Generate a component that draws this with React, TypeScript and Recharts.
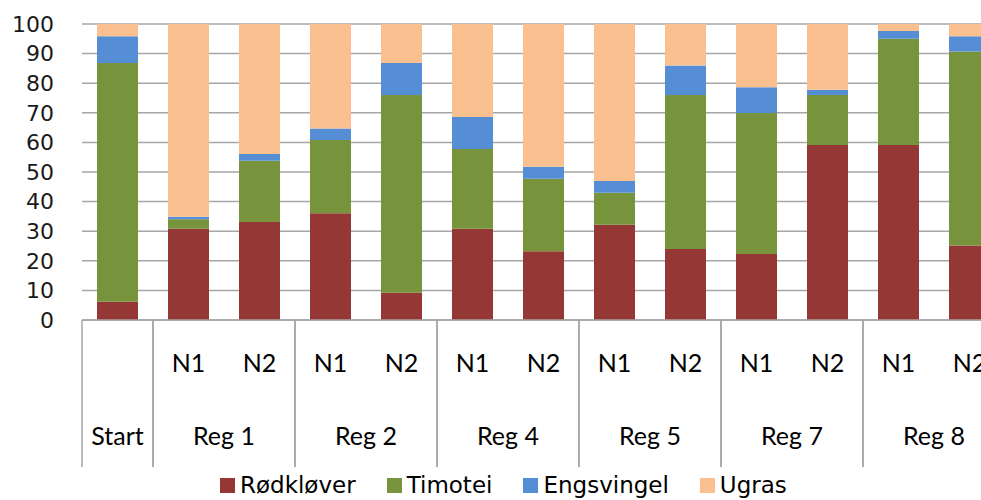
import { BarChart, Bar, XAxis, YAxis, CartesianGrid, Legend } from 'recharts';

// Botanical composition (%) per plot, stacked to 100
const subLabels = ['', 'N1', 'N2', 'N1', 'N2', 'N1', 'N2', 'N1', 'N2', 'N1', 'N2', 'N1', 'N2'];
const groupLabels = ['Start', 'Reg 1', 'Reg 1', 'Reg 2', 'Reg 2', 'Reg 4', 'Reg 4', 'Reg 5', 'Reg 5', 'Reg 7', 'Reg 7', 'Reg 8', 'Reg 8'];

const rodklover = [6.2, 30.8, 33.1, 36.1, 9.2, 30.8, 23.2, 32.2, 24.0, 22.3, 59.1, 59.1, 25.2];
const timotei = [80.6, 3.2, 20.7, 24.7, 66.8, 27.0, 24.5, 10.8, 52.0, 47.6, 16.9, 35.9, 65.5];
const engsvingel = [9.1, 0.9, 2.3, 3.9, 10.8, 10.8, 4.1, 4.0, 10.0, 8.7, 1.8, 2.6, 5.2];
const ugras = [4.1, 65.1, 43.9, 35.3, 13.2, 31.4, 48.2, 53.0, 14.0, 21.4, 22.2, 2.4, 4.1];

const yTicks = [0, 10, 20, 30, 40, 50, 60, 70, 80, 90, 100];

const series = [
  { key: 'rodklover', name: 'Rødkløver', color: '#953735' },
  { key: 'timotei', name: 'Timotei', color: '#77933C' },
  { key: 'engsvingel', name: 'Engsvingel', color: '#558ED5' },
  { key: 'ugras', name: 'Ugras', color: '#FAC090' },
];

const data = subLabels.map((sub, i) => ({
  id: i,
  sub,
  group: groupLabels[i],
  rodklover: rodklover[i],
  timotei: timotei[i],
  engsvingel: engsvingel[i],
  ugras: ugras[i],
}));

const labelFont = "Lato, 'Open Sans', sans-serif";
const axisGrey = '#a6a6a6';

// Two-level category tick: sub label, group label and group separators
function MultiLevelTick(props: any) {
  const { x, y, payload } = props;
  const i = payload.index;
  const half = payload.offset;
  const row = data[i];
  const isGroupStart = i === 0 || data[i - 1].group !== row.group;
  const isGroupEnd = i === data.length - 1 || data[i + 1].group !== row.group;
  const groupCenter = isGroupStart && isGroupEnd ? x : isGroupStart ? x + half : null;
  return (
    <g>
      {isGroupStart && (
        <line x1={x - half} x2={x - half} y1={y} y2={y + 147} stroke={axisGrey} strokeWidth={1.5} />
      )}
      {isGroupEnd && (
        <line x1={x + half} x2={x + half} y1={y} y2={y + 147} stroke={axisGrey} strokeWidth={1.5} />
      )}
      {row.sub && (
        <text x={x} y={y + 52} textAnchor="middle" fontSize={25} fill="#000" fontFamily={labelFont}>
          {row.sub}
        </text>
      )}
      {groupCenter !== null && (
        <text x={groupCenter} y={y + 125} textAnchor="middle" fontSize={25} fill="#000" fontFamily={labelFont}>
          {row.group}
        </text>
      )}
    </g>
  );
}

function LegendRow() {
  return (
    <div style={{ display: 'flex', paddingLeft: 220, paddingTop: 2, fontFamily: "'DejaVu Sans', sans-serif", fontSize: 23, color: '#000', whiteSpace: 'nowrap' }}>
      {series.map((s) => (
        <div key={s.key} style={{ display: 'flex', alignItems: 'center', marginRight: 31 }}>
          <span style={{ width: 15, height: 15, background: s.color, display: 'inline-block', marginRight: 5 }} />
          <span>{s.name}</span>
        </div>
      ))}
    </div>
  );
}

export default function App() {
  return (
    <div style={{ position: 'fixed', left: 0, top: 0, width: 981, height: 500, overflow: 'hidden', background: '#fff' }}>
      <BarChart width={1005} height={500} data={data} margin={{ top: 24, right: 0, left: 0, bottom: 0 }} barSize={41}>
        <CartesianGrid vertical={false} stroke={axisGrey} strokeWidth={1.5} />
        <XAxis
          dataKey="id"
          type="category"
          height={150}
          axisLine={{ stroke: axisGrey, strokeWidth: 1.5 }}
          tickLine={false}
          tickSize={0}
          tickMargin={0}
          interval={0}
          tick={<MultiLevelTick />}
        />
        <YAxis
          domain={[0, 100]}
          ticks={yTicks}
          interval={0}
          width={82}
          axisLine={false}
          tickLine={false}
          tickMargin={22}
          tick={{ fontSize: 22, fill: '#1a1a1a', fontFamily: "'DejaVu Sans', sans-serif" }}
        />
        <Legend verticalAlign="bottom" height={30} wrapperStyle={{ left: 0, width: 1005 }} content={<LegendRow />} />
        {series.map((s) => (
          <Bar key={s.key} dataKey={s.key} name={s.name} stackId="a" fill={s.color} isAnimationActive={false} />
        ))}
      </BarChart>
    </div>
  );
}
